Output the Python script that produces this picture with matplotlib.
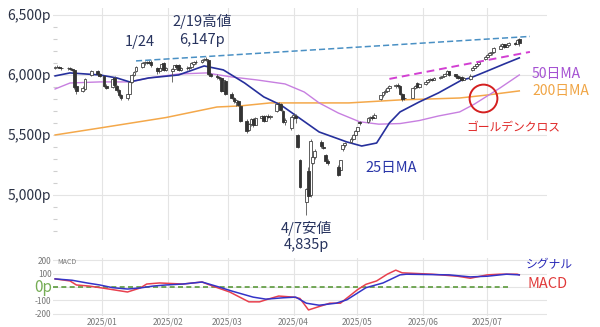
import matplotlib
matplotlib.use('Agg')
import matplotlib.pyplot as plt
import matplotlib.dates as mdates
from matplotlib.ticker import MultipleLocator
import numpy as np
import pandas as pd

plt.rcParams['font.family'] = ['Noto Sans CJK JP', 'DejaVu Sans']

# ---------------- data ----------------
holidays = ['2024-12-25', '2024-12-26', '2025-01-01', '2025-04-18',
            '2025-04-21', '2025-05-05', '2025-05-26']

opens = [
    # Dec
    6060, 6065, 6070, 6060, 6055, 6062, 6048, 6040, 5905, 5865, 5885, 6000, 6035, 6005,
    # Jan
    5990, 5910, 5900, 5975, 5910, 5875, 5835, 5805, 5845, 5945, 6000, 6030, 6070, 6100,
    6105, 6112, 6105, 6060, 6030, 6060, 6100, 6045,
    # Feb
    6030, 6050, 6080, 6085, 6040, 6060, 6055, 6070, 6095, 6110, 6105, 6125, 6135, 6125,
    6010, 5995, 5985, 5975, 5870, 5950,
    # Mar
    5845, 5810, 5775, 5785, 5740, 5620, 5540, 5595, 5630, 5585, 5645, 5655, 5620, 5660,
    5650, 5700, 5760, 5755, 5700, 5610, 5560,
    # Apr
    5650, 5660, 5500, 5290, 4940, 5200, 5000, 5270, 5320, 5445, 5400, 5335, 5280, 5235,
    5210, 5380, 5415, 5440, 5470, 5500,
    # May
    5530, 5610, 5610, 5640, 5650, 5645, 5800, 5830, 5855, 5870, 5890, 5905, 5915, 5910,
    5840, 5810, 5810, 5890, 5935, 5900,
    # Jun
    5925, 5940, 5955, 5968, 5962, 5975, 5985, 5995, 6010, 6030, 6005, 5995, 5975, 5985,
    5960, 5965, 6040, 6060, 6075, 6090, 6130,
    # Jul
    6150, 6165, 6180, 6195, 6220, 6245, 6255, 6235, 6250, 6265, 6260, 6300,
]
highs = [
    6075, 6080, 6078, 6070, 6068, 6070, 6055, 6045, 5920, 5905, 5975, 6045, 6045, 6015,
    6000, 5925, 5985, 5990, 5920, 5885, 5845, 5850, 5950, 6010, 6035, 6075, 6110, 6118,
    6120, 6122, 6125, 6070, 6060, 6100, 6110, 6070,
    6060, 6085, 6090, 6090, 6070, 6075, 6070, 6105, 6115, 6125, 6130, 6140, 6147, 6130,
    6020, 6005, 5990, 5980, 5965, 5960,
    5860, 5820, 5800, 5795, 5745, 5630, 5600, 5640, 5640, 5650, 5665, 5665, 5670, 5675,
    5665, 5770, 5775, 5765, 5710, 5640, 5660,
    5680, 5675, 5510, 5300, 5060, 5230, 5470, 5330, 5380, 5460, 5420, 5345, 5300, 5250,
    5295, 5420, 5440, 5480, 5510, 5540,
    5570, 5620, 5650, 5660, 5670, 5680, 5835, 5860, 5880, 5900, 5915, 5925, 5930, 5915,
    5850, 5830, 5900, 5915, 5940, 5935,
    5950, 5965, 5975, 5975, 5985, 5995, 6005, 6020, 6040, 6035, 6010, 6000, 5990, 5990,
    5985, 6005, 6070, 6085, 6100, 6120, 6160,
    6175, 6190, 6205, 6230, 6255, 6265, 6262, 6260, 6275, 6275, 6300, 6310,
]
lows = [
    6050, 6055, 6055, 6045, 6045, 6040, 6030, 5880, 5840, 5855, 5875, 5990, 5995, 5985,
    5900, 5880, 5895, 5905, 5860, 5820, 5790, 5795, 5840, 5935, 5995, 6025, 6060, 6085,
    6090, 6095, 6070, 6010, 6020, 6050, 6030, 6035,
    5945, 6040, 6060, 6030, 6030, 6045, 6040, 6065, 6085, 6095, 6100, 6115, 6120, 6000,
    5980, 5970, 5960, 5860, 5865, 5835,
    5800, 5770, 5745, 5740, 5610, 5520, 5530, 5575, 5570, 5580, 5630, 5610, 5615, 5640,
    5635, 5695, 5740, 5700, 5600, 5580, 5540,
    5630, 5600, 5390, 5060, 4835, 4980, 4980, 5260, 5300, 5395, 5380, 5270, 5250, 5160,
    5200, 5370, 5400, 5430, 5460, 5490,
    5520, 5580, 5600, 5620, 5625, 5640, 5795, 5820, 5840, 5860, 5880, 5890, 5895, 5830,
    5780, 5790, 5805, 5880, 5890, 5895,
    5915, 5935, 5950, 5950, 5955, 5970, 5980, 5990, 6005, 5995, 5985, 5965, 5970, 5950,
    5955, 5955, 6035, 6055, 6070, 6085, 6125,
    6140, 6155, 6170, 6185, 6215, 6235, 6225, 6230, 6245, 6250, 6255, 6240,
]
closes = [
    6065, 6070, 6060, 6055, 6062, 6048, 6040, 5900, 5870, 5895, 5965, 6035, 6005, 5995,
    5910, 5895, 5970, 5915, 5875, 5830, 5810, 5840, 5940, 6000, 6025, 6065, 6100, 6105,
    6112, 6100, 6080, 6030, 6055, 6095, 6045, 6060,
    6050, 6080, 6070, 6040, 6060, 6055, 6065, 6100, 6110, 6105, 6125, 6135, 6130, 6010,
    5995, 5980, 5975, 5870, 5955, 5845,
    5810, 5780, 5790, 5750, 5620, 5535, 5590, 5630, 5580, 5640, 5655, 5620, 5660, 5650,
    5660, 5760, 5755, 5710, 5610, 5625, 5650,
    5670, 5640, 5400, 5070, 5050, 4990, 5450, 5320, 5370, 5405, 5395, 5280, 5265, 5170,
    5290, 5415, 5430, 5470, 5500, 5530,
    5565, 5600, 5640, 5650, 5640, 5670, 5830, 5855, 5870, 5890, 5905, 5915, 5905, 5840,
    5800, 5805, 5890, 5905, 5900, 5925,
    5940, 5955, 5965, 5960, 5975, 5985, 5995, 6010, 6030, 6000, 5990, 5975, 5980, 5960,
    5975, 5995, 6060, 6075, 6090, 6110, 6150,
    6165, 6180, 6195, 6225, 6245, 6255, 6235, 6250, 6265, 6260, 6290, 6265,
]

ma25_dates = ['2024-12-10', '2024-12-17', '2024-12-31', '2025-01-08', '2025-01-14',
              '2025-01-23', '2025-02-06', '2025-02-18', '2025-02-27', '2025-03-09',
              '2025-03-18', '2025-03-26', '2025-04-05', '2025-04-13', '2025-04-26',
              '2025-05-03', '2025-05-10', '2025-05-16', '2025-05-21', '2025-05-30',
              '2025-06-08', '2025-06-19', '2025-06-23', '2025-07-01', '2025-07-09',
              '2025-07-16']
ma25 = [5992, 6017, 6000, 5975, 5942, 5975, 6000, 6075, 6042, 5933, 5817, 5750,
        5625, 5525, 5442, 5408, 5433, 5600, 5692, 5775, 5850, 5958, 5975, 6033,
        6092, 6142]

ma50_dates = ['2024-12-10', '2024-12-17', '2024-12-31', '2025-01-14', '2025-01-23',
              '2025-02-06', '2025-02-19', '2025-03-03', '2025-03-15', '2025-03-28',
              '2025-04-06', '2025-04-13', '2025-04-22', '2025-05-02', '2025-05-11',
              '2025-05-21', '2025-05-30', '2025-06-08', '2025-06-18', '2025-06-25',
              '2025-07-01', '2025-07-07', '2025-07-16']
ma50 = [5883, 5933, 5942, 5942, 5975, 6008, 6017, 5983, 5958, 5925, 5858, 5767,
        5683, 5610, 5590, 5595, 5620, 5658, 5692, 5758, 5825, 5892, 6000]

ma200_dates = ['2024-12-10', '2024-12-31', '2025-01-31', '2025-02-24', '2025-03-07',
               '2025-03-21', '2025-04-04', '2025-04-27', '2025-05-21', '2025-06-18',
               '2025-07-01', '2025-07-16']
ma200 = [5500, 5558, 5645, 5733, 5742, 5767, 5767, 5767, 5792, 5808, 5833, 5867]

signal_dates = ['2024-12-10', '2024-12-18', '2024-12-25', '2024-12-31', '2025-01-06',
                '2025-01-13', '2025-01-19', '2025-01-25', '2025-01-31', '2025-02-08',
                '2025-02-17', '2025-02-25', '2025-03-03', '2025-03-13', '2025-03-19',
                '2025-03-27', '2025-04-02', '2025-04-07', '2025-04-13', '2025-04-21',
                '2025-04-26', '2025-05-05', '2025-05-13', '2025-05-21', '2025-05-24',
                '2025-06-13', '2025-06-23', '2025-07-01', '2025-07-10', '2025-07-16']
signal = [60, 50, 30, 15, -5, -15, -7, 7, 15, 22, 37, 0, -30, -75, -90, -80, -75,
          -120, -135, -120, -95, -5, 30, 90, 95, 90, 75, 80, 95, 90]

macd_dates = ['2024-12-10', '2024-12-17', '2024-12-20', '2024-12-26', '2025-01-01',
              '2025-01-13', '2025-01-19', '2025-01-22', '2025-01-28', '2025-02-08',
              '2025-02-17', '2025-02-22', '2025-03-02', '2025-03-11', '2025-03-16',
              '2025-03-20', '2025-03-25', '2025-04-01', '2025-04-04', '2025-04-08',
              '2025-04-12', '2025-04-18', '2025-04-23', '2025-05-01', '2025-05-05',
              '2025-05-10', '2025-05-15', '2025-05-19', '2025-05-22', '2025-06-05',
              '2025-06-17', '2025-06-23', '2025-07-01', '2025-07-07', '2025-07-15',
              '2025-07-16']
macd = [60, 45, 15, 7, -7, -37, -7, 22, 30, 22, 37, 7, -37, -110, -110, -90, -67,
        -75, -85, -170, -150, -120, -120, -20, 20, 45, 95, 125, 105, 95, 80, 65, 90,
        95, 95, 90]

resist_dates = ['2025-01-17', '2025-07-21']
resist_vals = [6117, 6321]
support_dates = ['2025-05-16', '2025-07-21']
support_vals = [5967, 6192]

month_starts = ['2025-01-01', '2025-02-01', '2025-03-01', '2025-04-01',
                '2025-05-01', '2025-06-01', '2025-07-01']
month_labels = ['2025/01', '2025/02', '2025/03', '2025/04', '2025/05', '2025/06', '2025/07']
price_ticks = [5000, 5500, 6000, 6500]


def dn(s):
    return mdates.date2num(pd.to_datetime(s))


# ---------------- figure ----------------
dates = pd.bdate_range('2024-12-10', '2025-07-16')
dates = dates[~dates.isin(pd.to_datetime(holidays))]
n = min(len(dates), len(closes))
x = mdates.date2num(dates[:n])
o = np.array(opens[:n], float)
h = np.array(highs[:n], float)
l = np.array(lows[:n], float)
c = np.array(closes[:n], float)

fig = plt.figure(figsize=(6, 3.27), dpi=100)
fig.patch.set_facecolor('white')
ax = fig.add_axes([0.0883, 0.2661, 0.8233, 0.7095])
mx = fig.add_axes([0.0883, 0.0336, 0.8233, 0.1774])

xmin, xmax = dn('2024-12-09'), dn('2025-07-29')
mt = dn(month_starts)
for a in (ax, mx):
    for s in a.spines.values():
        s.set_visible(False)
    a.set_xlim(xmin, xmax)
    a.set_xticks(mt)
    a.grid(True, color='#e4e4e4', lw=0.8)
    a.set_axisbelow(True)

# main price axes
ax.set_ylim(4625, 6558)
ax.set_yticks(price_ticks)
ax.set_yticklabels([f'{v:,}p' for v in price_ticks], fontsize=10, color='#2b3245')
ax.tick_params(axis='x', labelbottom=False, length=0)
ax.tick_params(axis='y', which='major', length=0, pad=1.5)
ax.yaxis.set_minor_locator(MultipleLocator(100))
ax.tick_params(axis='y', which='minor', length=3, direction='in', color='#cfcfcf', width=0.8)

# moving averages
ax.plot(dn(ma200_dates), ma200, color='#f4a84a', lw=1.1, zorder=2)
ax.plot(dn(ma50_dates), ma50, color='#c77fe0', lw=1.0, zorder=2)
ax.plot(dn(ma25_dates), ma25, color='#26309c', lw=1.2, zorder=2)

# candles
up = c >= o
bot = np.minimum(o, c)
bh = np.maximum(np.abs(c - o), 4)
ax.vlines(x, l, h, color='#555555', lw=0.6, zorder=3)
ax.bar(x[up], bh[up], bottom=bot[up], width=1.3, facecolor='white',
       edgecolor='#444444', lw=0.6, zorder=4)
ax.bar(x[~up], bh[~up], bottom=bot[~up], width=1.3, facecolor='#333333',
       edgecolor='#333333', lw=0.6, zorder=4)

# trend lines
ax.plot(dn(resist_dates), resist_vals, color='#4a90c4', lw=1.1, ls=(0, (4, 2)), zorder=5)
ax.plot(dn(support_dates), support_vals, color='#d23fd2', lw=1.4, ls=(0, (4, 2.5)), zorder=5)

# golden cross circle
ax.plot([dn('2025-06-29')], [5808], marker='o', ms=20, mfc='none', mec='#d42020',
        mew=1.4, zorder=6, clip_on=False)

# annotations
navy = '#27335e'
ax.text(dn('2025-01-19'), 6275, '1/24', ha='center', va='center', fontsize=10.5, color=navy)
ax.text(dn('2025-02-17'), 6442, '2/19高値', ha='center', va='center', fontsize=10.5, color=navy)
ax.text(dn('2025-02-17'), 6292, '6,147p', ha='center', va='center', fontsize=10.5, color=navy)
ax.text(dn('2025-04-07'), 4725, '4/7安値', ha='center', va='center', fontsize=10.5, color=navy)
ax.text(dn('2025-04-07'), 4583, '4,835p', ha='center', va='center', fontsize=10.5, color=navy)
ax.text(dn('2025-05-17'), 5225, '25日MA', ha='center', va='center', fontsize=10.5, color='#2a36a8')
ax.text(dn('2025-07-22'), 6008, '50日MA', ha='left', va='center', fontsize=10, color='#a552d2')
ax.text(dn('2025-07-22'), 5867, '200日MA', ha='left', va='center', fontsize=10, color='#f0a545')
ax.text(dn('2025-07-13'), 5558, 'ゴールデンクロス', ha='center', va='center', fontsize=8.5,
        color='#e02828')

# MACD panel
mx.set_ylim(-215, 215)
mx.set_yticks([-200, -100, 0, 100, 200])
mx.set_yticklabels(['-200', '-100', '', '100', '200'], fontsize=6, color='#777777')
mx.set_xticklabels(month_labels, fontsize=6, color='#777777')
mx.tick_params(length=0, pad=1)
mx.plot([xmin, dn('2025-07-12')], [0, 0], color='#5c9a3c', lw=1.2, ls=(0, (3, 2)), zorder=2)
mx.plot(dn(macd_dates), macd, color='#e8404e', lw=1.1, zorder=3)
mx.plot(dn(signal_dates), signal, color='#3434c8', lw=1.1, zorder=4)
mx.text(0.008, 0.93, 'MACD', transform=mx.transAxes, fontsize=5, color='#777777',
        ha='left', va='center')

fig.text(43 / 600, 1 - 288 / 327, '0p', color='#76ad55', fontsize=11, ha='center', va='center')
fig.text(549 / 600, 1 - 265 / 327, 'シグナル', color='#2a2ab8', fontsize=8.5, ha='center', va='center')
fig.text(548 / 600, 1 - 284 / 327, 'MACD', color='#e03a3a', fontsize=10.5, ha='center', va='center')

fig.savefig('out.png', dpi=100, facecolor='white')
